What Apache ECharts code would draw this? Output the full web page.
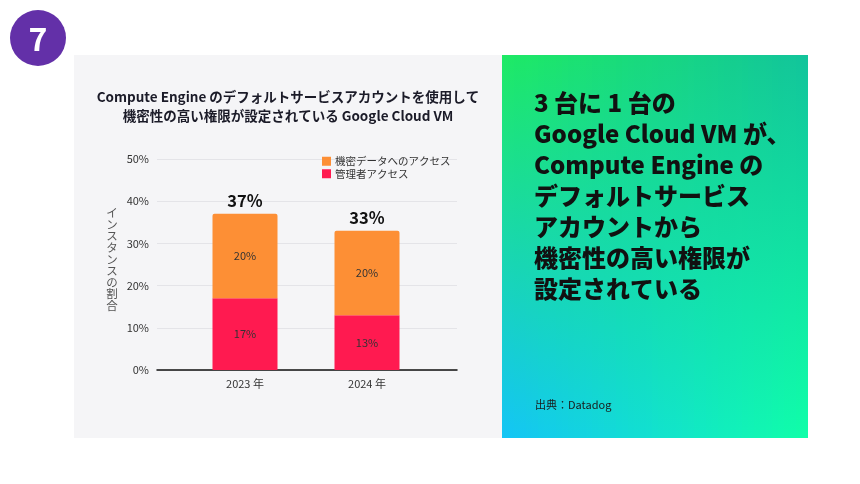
<!DOCTYPE html>
<html>
<head>
<meta charset="utf-8">
<style>
html,body{margin:0;padding:0;background:#ffffff;}
#chart{width:860px;height:484px;}
</style>
<script src="https://cdn.jsdelivr.net/npm/echarts@6/dist/echarts.min.js"></script>
</head>
<body>
<div id="chart"></div>
<script>
// ---- data ----
const categories = ['2023 年', '2024 年'];
const sensitiveData = [20, 20];   // 機密データへのアクセス
const adminAccess = [17, 13];     // 管理者アクセス
const totals = [37, 33];
const yTicks = [0, 10, 20, 30, 40, 50];
const seriesNames = ['機密データへのアクセス', '管理者アクセス'];
const titleLines = ['Compute Engine のデフォルトサービスアカウントを使用して', '機密性の高い権限が設定されている Google Cloud VM'];
const yAxisName = 'インスタンスの割合';
const headlineLines = ['3 台に 1 台の', 'Google Cloud VM が、', 'Compute Engine の', 'デフォルトサービス', 'アカウントから', '機密性の高い権限が', '設定されている'];
const sourceText = '出典：Datadog';
const badgeText = '7';

const FONT = '"Noto Sans CJK JP", "Noto Sans", sans-serif';
const ORANGE = '#fd8f35';
const RED = '#ff1a50';

// gradient panel built from vertical strips (bilinear corners)
const panel = {x: 502, y: 55, w: 306, h: 383};
const TL = [30, 234, 100], TR = [18, 196, 156], BL = [20, 196, 246], BR = [16, 255, 168];
function lerp(a, b, t) { return a.map((v, i) => Math.round(v + (b[i] - v) * t)); }
function rgb(c) { return 'rgb(' + c.join(',') + ')'; }
const strips = [];
const nStrips = 51;
for (let i = 0; i < nStrips; i++) {
  const x0 = panel.x + Math.floor(panel.w * i / nStrips);
  const x1 = panel.x + Math.floor(panel.w * (i + 1) / nStrips);
  const t = (i + 0.5) / nStrips;
  strips.push({
    type: 'rect', silent: true, z: 0,
    shape: {x: x0, y: panel.y, width: x1 - x0 + (i === nStrips - 1 ? 0 : 1), height: panel.h},
    style: {fill: new echarts.graphic.LinearGradient(0, 0, 0, 1, [
      {offset: 0, color: rgb(lerp(TL, TR, t))},
      {offset: 1, color: rgb(lerp(BL, BR, t))}
    ])}
  });
}

const chart = echarts.init(document.getElementById('chart'));
const option = {
  backgroundColor: '#ffffff',
  animation: false,
  textStyle: {fontFamily: FONT},
  legend: {
    data: seriesNames,
    orient: 'vertical',
    left: 317, top: 151,
    itemWidth: 9, itemHeight: 9, itemGap: 2,
    icon: 'rect',
    textStyle: {fontSize: 10.5, color: '#333', fontFamily: FONT, padding: [0, 0, 0, -1]}
  },
  grid: [
    {left: 157, right: 403, top: 159, bottom: 114},
    {left: 184, right: 432, top: 159, bottom: 114}
  ],
  xAxis: [
    {type: 'category', gridIndex: 0, data: categories, axisLabel: {show: false}, axisTick: {show: false},
     axisLine: {show: true, lineStyle: {color: '#111', width: 1.5}}},
    {type: 'category', gridIndex: 1, data: categories, axisTick: {show: false}, axisLine: {show: false},
     axisLabel: {fontSize: 11, color: '#333', margin: 8, fontFamily: FONT}}
  ],
  yAxis: [
    {type: 'value', gridIndex: 0, min: yTicks[0], max: yTicks[yTicks.length - 1], interval: 10,
     axisLabel: {formatter: '{value}%', fontSize: 11, color: '#333', margin: 8, fontFamily: FONT},
     splitLine: {lineStyle: {color: '#e4e4e8', width: 1}}, axisLine: {show: false}, axisTick: {show: false}},
    {type: 'value', gridIndex: 1, min: yTicks[0], max: yTicks[yTicks.length - 1], interval: 10,
     show: false, splitLine: {show: false}}
  ],
  series: [
    {name: seriesNames[1], type: 'bar', xAxisIndex: 1, yAxisIndex: 1, stack: 'a', barWidth: 65,
     data: adminAccess, itemStyle: {color: RED},
     label: {show: true, position: 'inside', formatter: '{c}%', fontSize: 11, color: '#333', fontFamily: FONT}},
    {name: seriesNames[0], type: 'bar', xAxisIndex: 1, yAxisIndex: 1, stack: 'a', barWidth: 65,
     data: sensitiveData, itemStyle: {color: ORANGE, borderRadius: [2, 2, 0, 0]},
     label: {show: true, position: 'inside', formatter: '{c}%', fontSize: 11, color: '#333', fontFamily: FONT}},
    {name: 'total', type: 'bar', xAxisIndex: 1, yAxisIndex: 1, stack: 'a', barWidth: 65,
     data: totals.map(() => 0), itemStyle: {color: 'transparent'},
     label: {show: true, position: 'top', distance: 5,
       formatter: p => totals[p.dataIndex] + '%',
       fontSize: 16.5, fontWeight: 'bold', color: '#111', fontFamily: FONT}}
  ],
  graphic: [
    {type: 'rect', silent: true, z: -1, shape: {x: 74, y: 55, width: 428, height: 383}, style: {fill: '#f5f5f7'}},
    ...strips,
    {type: 'circle', silent: true, z: 1, shape: {cx: 38, cy: 38, r: 28}, style: {fill: '#6330a8'}},
    {type: 'text', silent: true, z: 2, x: 38, y: 39,
     style: {text: badgeText, fill: '#ffffff', font: 'bold 32px ' + FONT, textAlign: 'center', textVerticalAlign: 'middle'}},
    {type: 'text', silent: true, z: 2, x: 288, y: 97,
     style: {text: titleLines[0], fill: '#1b1b28', font: 'bold 13.5px ' + FONT, textAlign: 'center', textVerticalAlign: 'middle'}},
    {type: 'text', silent: true, z: 2, x: 288, y: 116,
     style: {text: titleLines[1], fill: '#1b1b28', font: 'bold 13.5px ' + FONT, textAlign: 'center', textVerticalAlign: 'middle'}},
    {type: 'text', silent: true, z: 2, x: 112, y: 207,
     style: {text: yAxisName.split('').join('\n'), fill: '#555', font: '11.5px ' + FONT, textAlign: 'center', lineHeight: 11.6}},
    {type: 'text', silent: true, z: 2, x: 534, y: 87,
     style: {text: headlineLines.join('\n'), fill: '#111', font: '900 24px ' + FONT, lineHeight: 31}},
    {type: 'text', silent: true, z: 2, x: 535, y: 405,
     style: {text: sourceText, fill: '#1a1a1a', font: '11px ' + FONT, textVerticalAlign: 'middle'}}
  ]
};
chart.setOption(option);
</script>
</body>
</html>
